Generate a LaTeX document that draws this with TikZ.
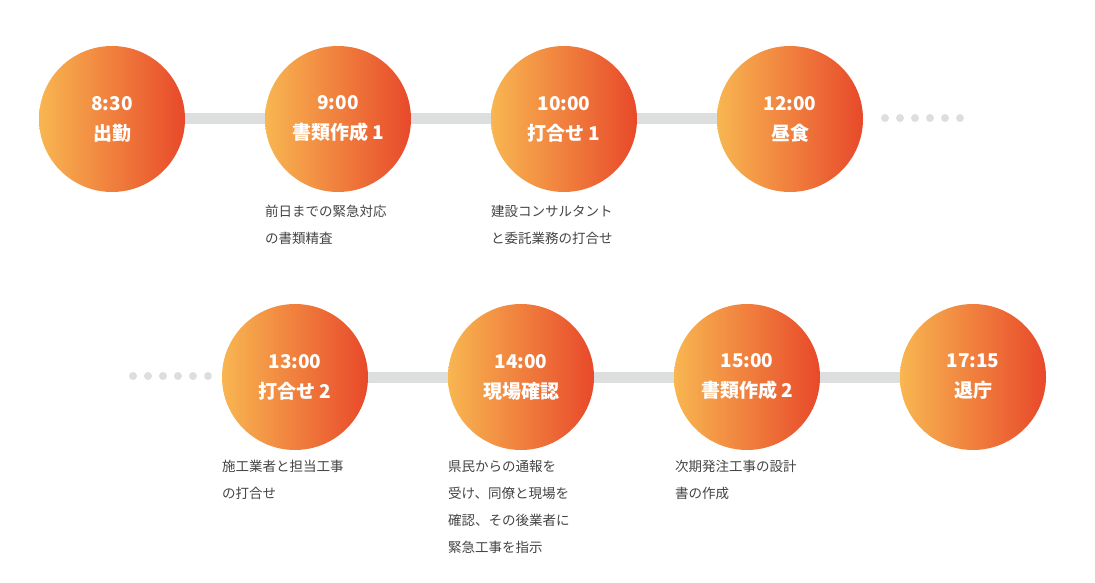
\documentclass[tikz,border=0pt]{standalone}
\usepackage{fontspec}
\setmainfont{Noto Sans CJK JP}
\newfontfamily\jpb{Noto Sans CJK JP Bold}
\definecolor{gl}{HTML}{F8B651}
\definecolor{gr}{HTML}{E8492A}
\definecolor{bar}{HTML}{DDDFDF}
\definecolor{txt}{HTML}{444444}
\begin{document}
\begin{tikzpicture}[x=1pt,y=-1pt,
  stop/.style={circle,minimum size=146pt,inner sep=0pt,left color=gl,right color=gr,text=white,font=\bfseries\fontsize{19}{30}\selectfont,align=center},
  desc/.style={anchor=north west,align=left,text=txt,font=\fontsize{13.5}{27}\selectfont,inner sep=0pt},
  link/.style={draw=bar,line width=11pt},
  dot/.style={circle,fill=bar,minimum size=8pt,inner sep=0pt}]
\useasboundingbox (0,0) rectangle (1095,583);
\foreach \i/\x in {1/885,2/900,3/915,4/930,5/945,6/960}{\node[dot] (da\i) at (\x,118) {};}
\foreach \i/\x in {1/133,2/148,3/163,4/178,5/193,6/208}{\node[dot] (db\i) at (\x,376) {};}
\coordinate (a1) at (112,119);\coordinate (a2) at (338,119);\coordinate (a3) at (564,119);\coordinate (a4) at (790,119);
\coordinate (b1) at (295,377);\coordinate (b2) at (521,377);\coordinate (b3) at (747,377);\coordinate (b4) at (973,377);
\draw[link] (a1) -- (a4);
\draw[link] (b1) -- (b4);
\node[stop] (s1) at (a1) {8:30\\出勤};
\node[stop] (s2) at (a2) {9:00\\書類作成 1};
\node[stop] (s3) at (a3) {10:00\\打合せ 1};
\node[stop] (s4) at (a4) {12:00\\昼食};
\node[stop] (t1) at (b1) {13:00\\打合せ 2};
\node[stop] (t2) at (b2) {14:00\\現場確認};
\node[stop] (t3) at (b3) {15:00\\書類作成 2};
\node[stop] (t4) at (b4) {17:15\\退庁};
\node[desc] (d2) at (265,205) {前日までの緊急対応\\の書類精査};
\node[desc] (d3) at (491,205) {建設コンサルタント\\と委託業務の打合せ};
\node[desc] (e1) at (222,460) {施工業者と担当工事\\の打合せ};
\node[desc] (e2) at (448,460) {県民からの通報を\\受け、同僚と現場を\\確認、その後業者に\\緊急工事を指示};
\node[desc] (e3) at (675,460) {次期発注工事の設計\\書の作成};
\end{tikzpicture}
\end{document}
